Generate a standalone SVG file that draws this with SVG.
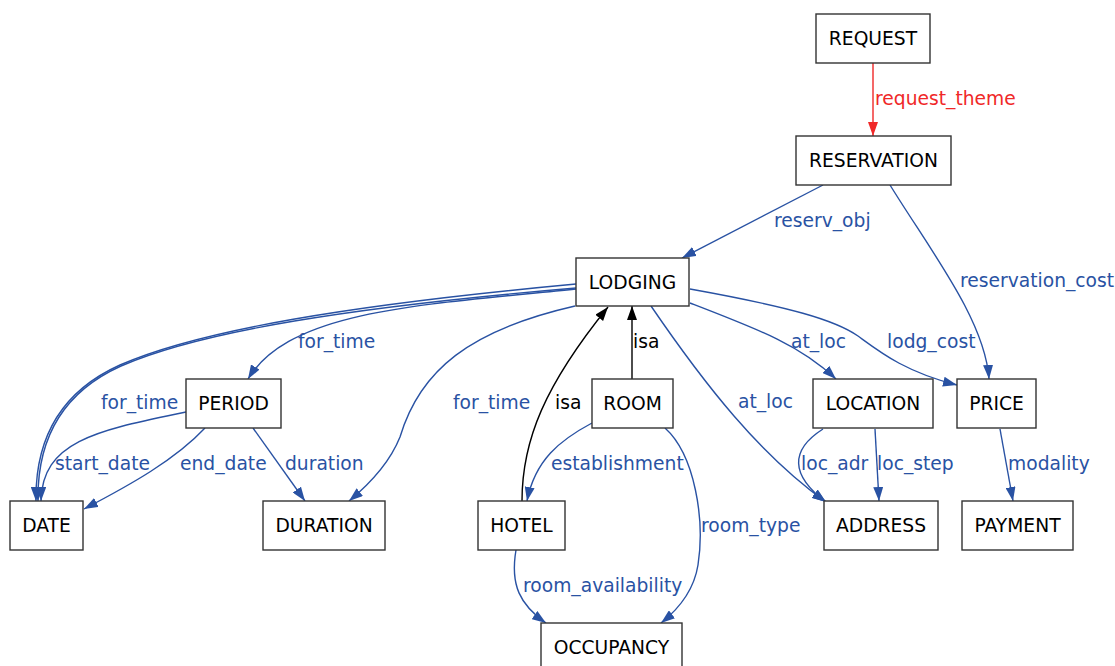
<svg xmlns="http://www.w3.org/2000/svg" width="1115" height="666" viewBox="0 0 1115 666">
<style>
.node rect{fill:#fff;stroke:#333;stroke-width:1.4}
.node text{font-family:"DejaVu Sans",sans-serif;font-size:18.7px;fill:#000;text-anchor:middle}
.e{fill:none;stroke-width:1.4}
.b{stroke:#2952a3}
.r{stroke:#f02828}
.k{stroke:#000}
.lb{font-family:"DejaVu Sans",sans-serif;font-size:18.7px;fill:#2952a3}
.lr{font-family:"DejaVu Sans",sans-serif;font-size:18.7px;fill:#f02828}
.lk{font-family:"DejaVu Sans",sans-serif;font-size:18.7px;fill:#000}
</style>
<defs>
<marker id="ab" viewBox="0 0 14 10" refX="14" refY="5" markerWidth="14" markerHeight="10" markerUnits="userSpaceOnUse" orient="auto"><path d="M0,0 L14,5 L0,10 z" fill="#2952a3"/></marker>
<marker id="ar" viewBox="0 0 14 10" refX="14" refY="5" markerWidth="14" markerHeight="10" markerUnits="userSpaceOnUse" orient="auto"><path d="M0,0 L14,5 L0,10 z" fill="#f02828"/></marker>
<marker id="ak" viewBox="0 0 14 10" refX="14" refY="5" markerWidth="14" markerHeight="10" markerUnits="userSpaceOnUse" orient="auto"><path d="M0,0 L14,5 L0,10 z" fill="#000"/></marker>
</defs>
<rect width="1115" height="666" fill="#fff"/>
<g id="connectors">
<path class="e r" d="M873,63 L873,136" marker-end="url(#ar)"/>
<text class="lr" x="875" y="105">request_theme</text>
<path class="e b" d="M823,185 L682,258" marker-end="url(#ab)"/>
<text class="lb" x="774" y="227">reserv_obj</text>
<path class="e b" d="M890,185 C930,250 985,320 989,379" marker-end="url(#ab)"/>
<text class="lb" x="960" y="287">reservation_cost</text>
<path class="e b" d="M576,289 C420,305 290,310 248,379" marker-end="url(#ab)"/>
<text class="lb" x="298" y="348">for_time</text>
<path class="e b" d="M576,284 C350,305 200,330 120,365 C60,392 35,440 36,501" marker-end="url(#ab)"/>
<path class="e b" d="M576,288 C352,307 201,331 121,366 C61,393 37,440 38,501" marker-end="url(#ab)"/>
<text class="lb" x="101" y="409">for_time</text>
<path class="e b" d="M186,412 C100,430 42,440 41,501" marker-end="url(#ab)"/>
<text class="lb" x="55" y="470">start_date</text>
<path class="e b" d="M205,428 C175,460 130,485 84,509" marker-end="url(#ab)"/>
<text class="lb" x="180" y="470">end_date</text>
<path class="e b" d="M253,428 L305,501" marker-end="url(#ab)"/>
<text class="lb" x="285" y="470">duration</text>
<path class="e b" d="M575,306 C470,330 420,370 400,437 C390,462 372,482 349,501" marker-end="url(#ab)"/>
<text class="lb" x="453" y="409">for_time</text>
<path class="e k" d="M632,379 L632,306" marker-end="url(#ak)"/>
<text class="lk" x="633" y="348">isa</text>
<path class="e k" d="M522,501 C522,440 545,385 608,307" marker-end="url(#ak)"/>
<text class="lk" x="555" y="409">isa</text>
<path class="e b" d="M592,423 C560,440 535,460 527,501" marker-end="url(#ab)"/>
<text class="lb" x="551" y="470">establishment</text>
<path class="e b" d="M665,428 C695,455 705,520 698,565 C694,590 680,608 661,623" marker-end="url(#ab)"/>
<text class="lb" x="701" y="532">room_type</text>
<path class="e b" d="M516,550 C510,585 520,605 546,623" marker-end="url(#ab)"/>
<text class="lb" x="523" y="592">room_availability</text>
<path class="e b" d="M651,306 C705,385 760,455 826,502" marker-end="url(#ab)"/>
<text class="lb" x="738" y="408">at_loc</text>
<path class="e b" d="M690,303 C760,330 800,345 836,379" marker-end="url(#ab)"/>
<text class="lb" x="791" y="348">at_loc</text>
<path class="e b" d="M690,289 C790,307 835,320 858,336 C880,352 905,372 957,385" marker-end="url(#ab)"/>
<text class="lb" x="887" y="348">lodg_cost</text>
<path class="e b" d="M823,429 C790,450 790,475 826,502" marker-end="url(#ab)"/>
<text class="lb" x="801" y="470">loc_adr</text>
<path class="e b" d="M875,429 L879,501" marker-end="url(#ab)"/>
<text class="lb" x="877" y="470">loc_step</text>
<path class="e b" d="M1000,429 L1013,501" marker-end="url(#ab)"/>
<text class="lb" x="1008" y="470">modality</text>
</g>
<g id="REQUEST" class="node"><rect x="816" y="14" width="114" height="49"/><text x="873" y="45">REQUEST</text></g>
<g id="RESERVATION" class="node"><rect x="796" y="136" width="155" height="49"/><text x="873.5" y="167">RESERVATION</text></g>
<g id="LODGING" class="node"><rect x="576" y="258" width="113" height="48"/><text x="632.5" y="288.5">LODGING</text></g>
<g id="PERIOD" class="node"><rect x="186" y="379" width="95" height="49"/><text x="233.5" y="410">PERIOD</text></g>
<g id="ROOM" class="node"><rect x="592" y="379" width="81" height="49"/><text x="632.5" y="410">ROOM</text></g>
<g id="LOCATION" class="node"><rect x="813" y="379" width="120" height="49"/><text x="873" y="410">LOCATION</text></g>
<g id="PRICE" class="node"><rect x="957" y="379" width="79" height="49"/><text x="996.5" y="410">PRICE</text></g>
<g id="DATE" class="node"><rect x="10" y="501" width="73" height="49"/><text x="46.5" y="532">DATE</text></g>
<g id="DURATION" class="node"><rect x="263" y="501" width="122" height="49"/><text x="324" y="532">DURATION</text></g>
<g id="HOTEL" class="node"><rect x="478" y="501" width="87" height="49"/><text x="521.5" y="532">HOTEL</text></g>
<g id="ADDRESS" class="node"><rect x="824" y="501" width="114" height="49"/><text x="881" y="532">ADDRESS</text></g>
<g id="PAYMENT" class="node"><rect x="962" y="501" width="111" height="49"/><text x="1017.5" y="532">PAYMENT</text></g>
<g id="OCCUPANCY" class="node"><rect x="541" y="623" width="141" height="49"/><text x="611.5" y="654">OCCUPANCY</text></g>
</svg>
